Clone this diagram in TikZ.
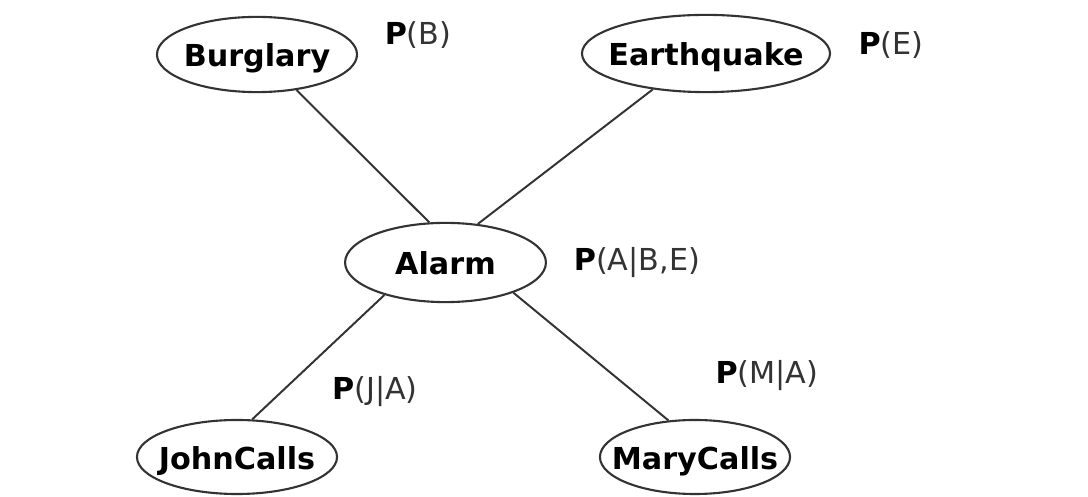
\documentclass[tikz,border=0pt]{standalone}
\usepackage{fontspec}
\setmainfont{DejaVu Sans}
\usepackage{tikz}
\usetikzlibrary{shapes.geometric}
\def\varname#1{\makebox[0pt]{\smash{\raisebox{-0.3cm}{#1}}}}

\begin{document}
\begin{tikzpicture}[x=0.025cm, y=-0.025cm,
		varnode/.style={ellipse, draw=black!80, line width=1.5pt, inner sep=0pt, minimum height=1.88cm, font=\fontsize{21.5}{24}\selectfont\bfseries},
		edge/.style={draw=black!80, line width=1.4pt},
		prob/.style={text=black!80, font=\fontsize{21.5}{24}\selectfont}]
		%%%%% START %%%%%
		
		\useasboundingbox (0, 0) rectangle (1088, 497);
		
		\node[varnode, minimum width=5cm] (burglary) at (257, 54.5) {\varname{Burglary}};
		\node[varnode, minimum width=6.2cm, minimum height=1.93cm] (earthquake) at (706, 53.5) {\varname{Earthquake}};
		\node[varnode, minimum width=5.02cm, minimum height=1.98cm] (alarm) at (445.5, 262.5) {\varname{Alarm}};
		\node[varnode, minimum width=5cm, minimum height=1.85cm] (john) at (237, 457) {\varname{JohnCalls}};
		\node[varnode, minimum width=4.75cm, minimum height=1.85cm] (mary) at (695, 457) {\varname{MaryCalls}};
		
		\node[prob] (pb) at (418, 35) {\textbf{\color{black}P}(B)};
		\node[prob] (pe) at (891, 45) {\textbf{\color{black}P}(E)};
		\node[prob] (pa) at (637, 263) {\textbf{\color{black}P}(A|B,E)};
		\node[prob] (pj) at (375, 392) {\textbf{\color{black}P}(J|A)};
		\node[prob] (pm) at (767, 376) {\textbf{\color{black}P}(M|A)};
		
		\draw[edge] (burglary.-42) -- (alarm.112);
		\draw[edge] (earthquake.-146) -- (alarm.50);
		\draw[edge] (alarm.-152) -- (john.68);
		\draw[edge] (alarm.-24) -- (mary.126);
		
		%%%%% END %%%%%
	\end{tikzpicture}
\end{document}
